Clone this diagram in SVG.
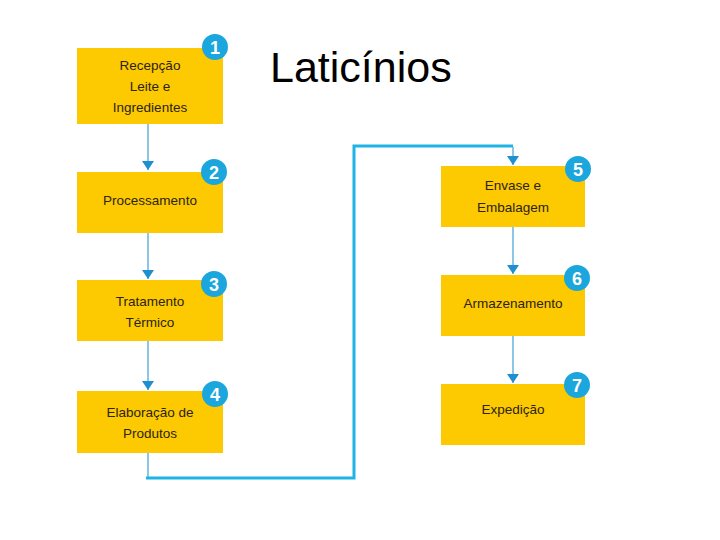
<svg xmlns="http://www.w3.org/2000/svg" width="720" height="540" viewBox="0 0 720 540">
<defs>
<marker id="ah" markerWidth="9" markerHeight="12" refX="9" refY="6" orient="auto" markerUnits="userSpaceOnUse">
<path d="M0,0 L9,6 L0,12 Z" fill="#1E8FD0"/>
</marker>
<style>
.box{fill:#FDC900}
.lbl{font-family:"Liberation Sans",Arial,sans-serif;font-size:13.5px;fill:#2b2416;text-anchor:middle;font-stretch:condensed}
.badge{fill:#1BA6DD}
.num{font-family:"Liberation Sans",Arial,sans-serif;font-size:18px;font-weight:bold;fill:#fff;text-anchor:middle}
.thin{stroke:#4FA8DC;stroke-width:1.3;fill:none}
.thick{stroke:#1FB3E6;stroke-width:3;fill:none}
</style>
</defs>
<rect width="720" height="540" fill="#fff"/>
<text x="270" y="82" font-family="'Liberation Sans',Arial,sans-serif" font-size="43" fill="#000">Laticínios</text>
<g id="connectors">
<line class="thin" x1="148" y1="124" x2="148" y2="170" marker-end="url(#ah)"/>
<line class="thin" x1="148" y1="233" x2="148" y2="279" marker-end="url(#ah)"/>
<line class="thin" x1="148" y1="341" x2="148" y2="390" marker-end="url(#ah)"/>
<polyline class="thin" points="148,453 148,478"/>
<polyline class="thick" points="146,478 354,478 354,146 513,146"/>
<line class="thin" x1="513" y1="147" x2="513" y2="165" marker-end="url(#ah)"/>
<line class="thin" x1="513" y1="227" x2="513" y2="274" marker-end="url(#ah)"/>
<line class="thin" x1="513" y1="336" x2="513" y2="383" marker-end="url(#ah)"/>
</g>
<g id="n1">
<rect class="box" x="77" y="48" width="146" height="76"/>
<text class="lbl" x="150" y="70">Recepção</text>
<text class="lbl" x="150" y="91">Leite e</text>
<text class="lbl" x="150" y="112">Ingredientes</text>
<circle class="badge" cx="215" cy="47" r="13"/>
<text class="num" x="215" y="54">1</text>
</g>
<g id="n2">
<rect class="box" x="77" y="172" width="146" height="61"/>
<text class="lbl" x="150" y="205">Processamento</text>
<circle class="badge" cx="214" cy="172" r="13"/>
<text class="num" x="214" y="179">2</text>
</g>
<g id="n3">
<rect class="box" x="77" y="280" width="146" height="61"/>
<text class="lbl" x="150" y="306">Tratamento</text>
<text class="lbl" x="150" y="327">Térmico</text>
<circle class="badge" cx="214" cy="284" r="13"/>
<text class="num" x="214" y="291">3</text>
</g>
<g id="n4">
<rect class="box" x="77" y="391" width="146" height="62"/>
<text class="lbl" x="150" y="417">Elaboração de</text>
<text class="lbl" x="150" y="438">Produtos</text>
<circle class="badge" cx="215" cy="394" r="13"/>
<text class="num" x="215" y="401">4</text>
</g>
<g id="n5">
<rect class="box" x="441" y="166" width="144" height="61"/>
<text class="lbl" x="513" y="190">Envase e</text>
<text class="lbl" x="513" y="212">Embalagem</text>
<circle class="badge" cx="578" cy="169" r="13"/>
<text class="num" x="578" y="176">5</text>
</g>
<g id="n6">
<rect class="box" x="441" y="275" width="144" height="61"/>
<text class="lbl" x="513" y="308">Armazenamento</text>
<circle class="badge" cx="577" cy="278" r="13"/>
<text class="num" x="577" y="285">6</text>
</g>
<g id="n7">
<rect class="box" x="441" y="384" width="144" height="61"/>
<text class="lbl" x="513" y="414">Expedição</text>
<circle class="badge" cx="577" cy="385" r="13"/>
<text class="num" x="577" y="392">7</text>
</g>
</svg>
